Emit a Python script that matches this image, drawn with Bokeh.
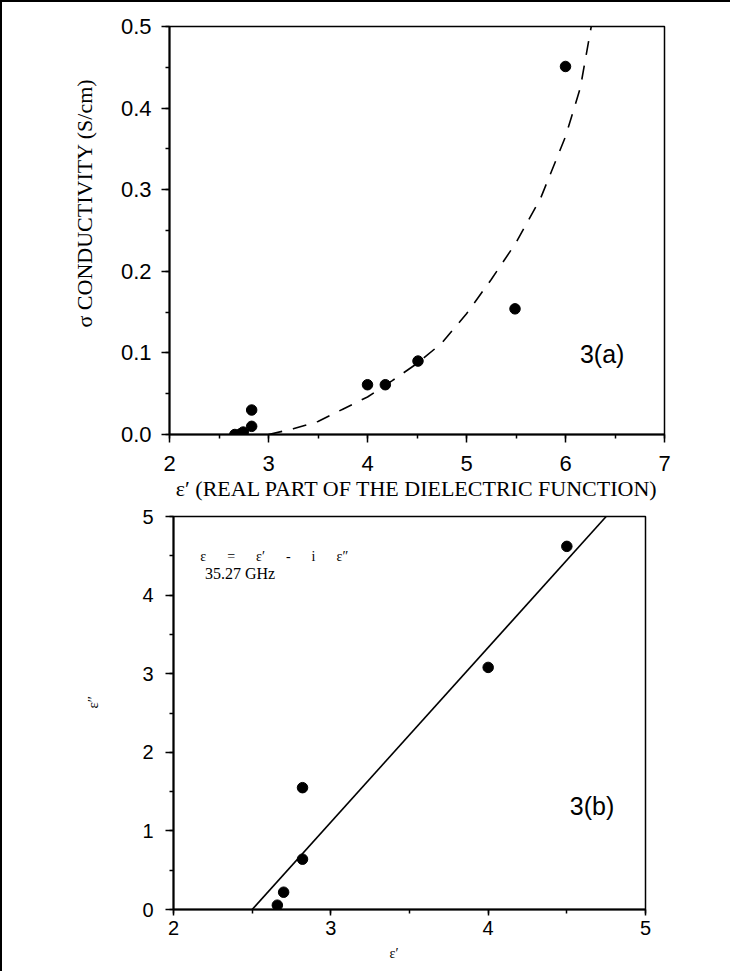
from bokeh.plotting import figure
from bokeh.layouts import column
from bokeh.models import Range1d, SingleIntervalTicker, Label, Title, PrintfTickFormatter
from bokeh.embed import file_html
from bokeh.resources import INLINE

# ---------- data: panel 3(a) ----------
a_eps_real = [2.66, 2.72, 2.745, 2.83, 2.83, 4.0, 4.18, 4.51, 5.49, 6.0]
a_sigma = [0.0, 0.001, 0.003, 0.01, 0.03, 0.061, 0.061, 0.09, 0.154, 0.451]
a_fit_x = [3.0, 3.25, 3.5, 3.75, 4.0, 4.25, 4.5, 4.75, 5.0, 5.25, 5.5, 5.75, 6.0, 6.15, 6.26]
a_fit_y = [0.0, 0.007, 0.016, 0.031, 0.046, 0.066, 0.087, 0.112, 0.148, 0.19, 0.235, 0.29, 0.365, 0.425, 0.5]
a_xlabel = "ε′ (REAL PART OF THE DIELECTRIC FUNCTION)"
a_ylabel = "σ CONDUCTIVITY (S/cm)"

# ---------- data: panel 3(b) ----------
b_eps_real = [2.66, 2.70, 2.82, 2.82, 4.0, 4.5]
b_eps_imag = [0.055, 0.22, 0.64, 1.55, 3.08, 4.62]
b_fit_x = [2.5, 4.75]
b_fit_y = [0.0, 5.0]

SANS = "'Liberation Sans', Arial, sans-serif"
SERIF = "'Liberation Serif', serif"
NB = "\u00a0" * 6


def style_axes(p, label_size):
    for ax in (p.xaxis[0], p.yaxis[0]):
        ax.axis_line_color = "black"
        ax.axis_line_width = 2
        ax.major_tick_line_color = "black"
        ax.major_tick_line_width = 1.5
        ax.minor_tick_line_color = "black"
        ax.minor_tick_line_width = 1.5
        ax.major_tick_in = 0
        ax.major_tick_out = 8
        ax.minor_tick_in = 0
        ax.minor_tick_out = 4
        ax.major_label_text_font = SANS
        ax.major_label_text_font_size = label_size
        ax.major_label_text_color = "black"
    p.xgrid.visible = False
    p.ygrid.visible = False
    p.outline_line_color = "black"
    p.outline_line_width = 1.5
    p.background_fill_color = "white"
    p.border_fill_color = "white"


# ---------- figure (a) ----------
pa = figure(width=728, height=504, output_backend="svg", toolbar_location=None,
            x_range=Range1d(2, 7), y_range=Range1d(0, 0.5), frame_align=False,
            min_border_left=167, min_border_right=66, min_border_top=24, min_border_bottom=72)
pa.xaxis.ticker = SingleIntervalTicker(interval=1, num_minor_ticks=2)
pa.yaxis.ticker = SingleIntervalTicker(interval=0.1, num_minor_ticks=2)
pa.yaxis.formatter = PrintfTickFormatter(format="%.1f")
style_axes(pa, "22px")
pa.xaxis.major_label_standoff = 13
pa.yaxis.major_label_standoff = 10

pa.line(a_fit_x, a_fit_y, line_color="black", line_width=1.6, line_dash="14 11")
pa.scatter(a_eps_real, a_sigma, size=10.5, color="black")

pa.add_layout(Label(x=6.37, y=0.099, text="3(a)", text_font=SANS, text_font_size="25px",
                    text_align="center", text_baseline="middle", text_color="black"))
pa.add_layout(Title(text=a_ylabel, text_font=SERIF, text_font_size="22px",
                    text_font_style="normal", align="left", offset=107,
                    vertical_align="bottom", standoff=42, text_color="black"), "left")
pa.add_layout(Title(text=a_xlabel, text_font=SERIF, text_font_size="22px",
                    text_font_style="normal", align="center", vertical_align="top",
                    standoff=4, text_color="black"), "below")

# ---------- figure (b) ----------
pb = figure(width=728, height=465, output_backend="svg", toolbar_location=None,
            x_range=Range1d(2, 5), y_range=Range1d(0, 5), frame_align=False,
            min_border_left=171, min_border_right=85, min_border_top=10, min_border_bottom=62)
pb.xaxis.ticker = SingleIntervalTicker(interval=1, num_minor_ticks=2)
pb.yaxis.ticker = SingleIntervalTicker(interval=1, num_minor_ticks=2)
style_axes(pb, "20px")
pb.xaxis.major_tick_out = 6
pb.xaxis.major_label_standoff = 5
pb.yaxis.major_label_standoff = 12

pb.line(b_fit_x, b_fit_y, line_color="black", line_width=1.6)
pb.scatter(b_eps_real, b_eps_imag, size=10.5, color="black")

pb.add_layout(Label(x=4.66, y=1.32, text="3(b)", text_font=SANS, text_font_size="25px",
                    text_align="center", text_baseline="middle", text_color="black"))
pb.add_layout(Label(x=2.17, y=4.49, text="ε" + NB + "=" + NB + "ε′" + NB + "-" + NB + "i" + NB + "ε″",
                    text_font=SERIF, text_font_size="14px", text_align="left",
                    text_baseline="middle", text_color="black"))
pb.add_layout(Label(x=2.20, y=4.27, text="35.27 GHz", text_font=SERIF,
                    text_font_size="16px", text_align="left", text_baseline="middle",
                    text_color="black"))
pb.add_layout(Title(text="ε″", text_font=SERIF, text_font_size="15px",
                    text_font_style="normal", align="left", offset=201,
                    vertical_align="bottom", standoff=78, text_color="black"), "left")
pb.add_layout(Title(text="ε′", text_font=SERIF, text_font_size="14px",
                    text_font_style="normal", align="left", offset=216,
                    vertical_align="top", standoff=16, text_color="black"), "below")

layout = column(pa, pb, styles={"border-left": "2px solid black", "border-top": "2px solid black"})

open("out.html", "w").write(file_html(layout, INLINE))
